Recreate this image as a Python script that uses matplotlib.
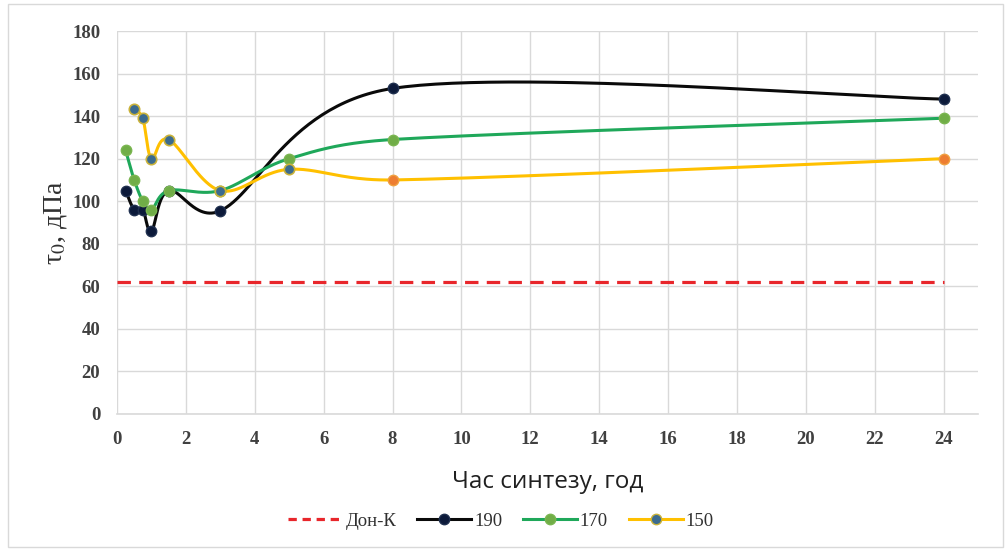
import numpy as np
import matplotlib
matplotlib.use("Agg")
import matplotlib.pyplot as plt
from matplotlib.lines import Line2D
from matplotlib.patches import Rectangle

# ---- data ----
don_x = [0, 24]
don_y = [62, 62]

x190 = [0.25, 0.5, 0.75, 1.0, 1.5, 3, 8, 24]
y190 = [105, 96, 96, 86, 105, 95.5, 153, 148]

x170 = [0.25, 0.5, 0.75, 1.0, 1.5, 3, 5, 8, 24]
y170 = [124, 110, 100, 96, 105, 105, 120, 129, 139]

x150 = [0.5, 0.75, 1.0, 1.5, 3, 5, 8, 24]
y150 = [143.5, 139, 120, 129, 105, 115, 110, 120]

xticks = list(range(0, 25, 2))
yticks = list(range(0, 181, 20))

plt.rcParams["mathtext.fontset"] = "stix"

# approximate screen scale (px per data unit) used only for the smoothing shape
SX, SY = 34.4, 2.128


def smooth(xs, ys, n=60):
    """Excel-like smoothed line (Bezier with neighbour tangents, arm length capped)."""
    p = np.column_stack([np.asarray(xs, float) * SX, np.asarray(ys, float) * SY])
    out = []
    m = len(p)
    for i in range(m - 1):
        p0 = p[i - 1] if i > 0 else p[i]
        p1 = p[i]
        p2 = p[i + 1]
        p3 = p[i + 2] if i + 2 < m else p[i + 1]
        d = np.linalg.norm(p2 - p1)
        a1 = (p2 - p0) / 6.0
        a2 = (p3 - p1) / 6.0
        for a in (a1, a2):
            L = np.linalg.norm(a)
            if L > 0.5 * d and L > 0:
                a *= 0.5 * d / L
        c1 = p1 + a1
        c2 = p2 - a2
        t = np.linspace(0, 1, n)[:, None]
        seg = ((1 - t) ** 3) * p1 + 3 * ((1 - t) ** 2) * t * c1 + 3 * (1 - t) * t ** 2 * c2 + t ** 3 * p2
        out.append(seg if i == 0 else seg[1:])
    s = np.vstack(out)
    return s[:, 0] / SX, s[:, 1] / SY


serif = ["Liberation Serif", "DejaVu Serif"]

fig = plt.figure(figsize=(10.07, 5.51), dpi=100)
fig.patches.append(Rectangle((8 / 1007, 4 / 551), 995 / 1007, 543 / 551, transform=fig.transFigure,
                             fill=False, edgecolor="#d9d9d9", linewidth=1.0))
ax = fig.add_axes([117 / 1007, 1 - 414 / 551, (978 - 117) / 1007, (414 - 31) / 551])

ax.set_xlim(0, 25)
ax.set_ylim(0, 180)
ax.set_xticks(xticks)
ax.set_yticks(yticks)
ax.grid(True, color="#d9d9d9", linewidth=1.0)
ax.set_axisbelow(True)
for s in ["top", "right", "left"]:
    ax.spines[s].set_visible(False)
ax.spines["bottom"].set_color("#d9d9d9")
ax.spines["bottom"].set_linewidth(1.2)
ax.tick_params(axis="x", length=0, pad=12, labelsize=13.5, labelcolor="#404040")
ax.tick_params(axis="y", length=0, pad=12, labelsize=13.5, labelcolor="#404040")
for lab in ax.get_xticklabels() + ax.get_yticklabels():
    lab.set_family(serif)
    lab.set_fontweight("bold")

ax.plot(don_x, don_y, color="#e8262b", linestyle=(0, (4.2, 2.6)), linewidth=2.3, zorder=2)

c190 = "#0a0a0a"
c170 = "#1fa85a"
c150 = "#ffc000"

sx, sy = smooth(x190, y190)
ax.plot(sx, sy, color=c190, linewidth=2.2, zorder=3)
sx, sy = smooth(x170, y170)
ax.plot(sx, sy, color=c170, linewidth=2.2, zorder=4)
sx, sy = smooth(x150, y150)
ax.plot(sx, sy, color=c150, linewidth=2.2, zorder=5)

ax.plot(x190, y190, linestyle="none", marker="o", markersize=7.5, markerfacecolor="#0c1a3a",
        markeredgecolor="#20304f", markeredgewidth=1, zorder=6)
ax.plot(x170, y170, linestyle="none", marker="o", markersize=7.5, markerfacecolor="#70ad47",
        markeredgecolor="#7ab650", markeredgewidth=1, zorder=7)
ax.plot(x150[:-2], y150[:-2], linestyle="none", marker="o", markersize=7.5, markerfacecolor="#3b6b8f",
        markeredgecolor="#c9b23a", markeredgewidth=1.2, zorder=8)
ax.plot(x150[-2:], y150[-2:], linestyle="none", marker="o", markersize=7.5, markerfacecolor="#ed7d31",
        markeredgecolor="#f0a040", markeredgewidth=1, zorder=8)

ax.set_ylabel(r"τ$_0$, дПа", fontfamily=serif, fontsize=20, color="#303030", labelpad=2)
ax.set_xlabel("Час синтезу, год", fontfamily=["Open Sans", "DejaVu Sans"], fontsize=17.5,
              color="#202020", labelpad=16)

handles = [
    Line2D([], [], color="#e8262b", linestyle=(0, (2.6, 1.8)), linewidth=2.3),
    Line2D([], [], color=c190, linewidth=2.2, marker="o", markersize=7.5, markerfacecolor="#0c1a3a",
           markeredgecolor="#20304f"),
    Line2D([], [], color=c170, linewidth=2.2, marker="o", markersize=7.5, markerfacecolor="#70ad47",
           markeredgecolor="#7ab650"),
    Line2D([], [], color=c150, linewidth=2.2, marker="o", markersize=7.5, markerfacecolor="#3b6b8f",
           markeredgecolor="#c9b23a"),
]
labels = ["Дон-К", "190", "170", "150"]
leg = fig.legend(handles, labels, loc="center", bbox_to_anchor=(501 / 1007, 1 - 521 / 551), ncol=4,
                 frameon=False, prop={"family": serif, "size": 13.5}, handlelength=2.9,
                 handletextpad=0.15, columnspacing=1.1)
for t in leg.get_texts():
    t.set_color("#303030")

fig.savefig("out.png", dpi=100)
